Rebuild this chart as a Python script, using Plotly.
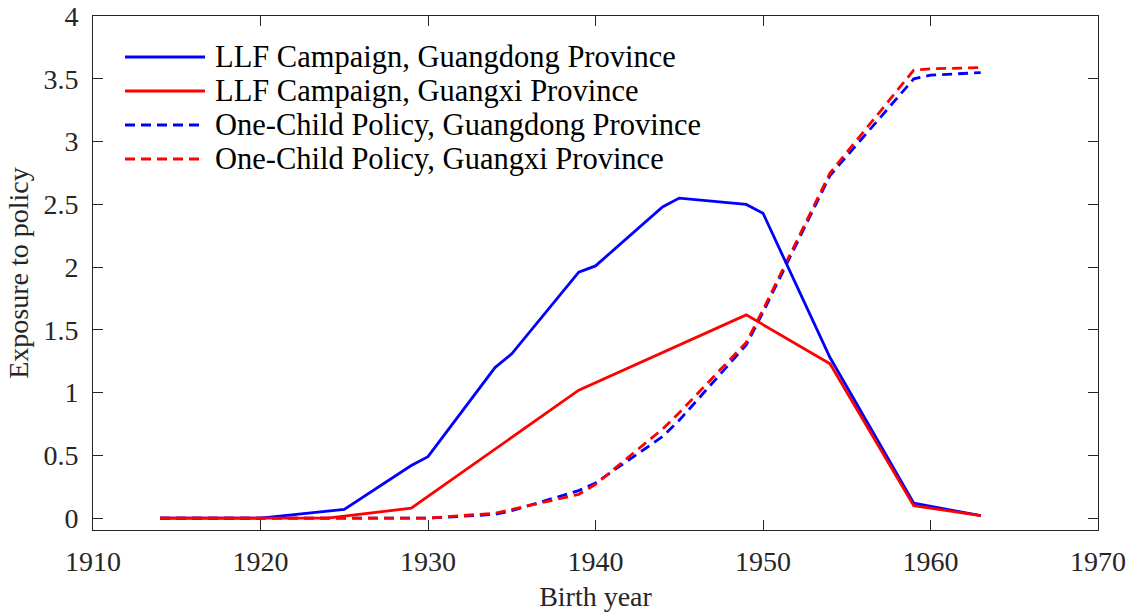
import plotly.graph_objects as go

# ---- data ----
years_llf_gd = [1914, 1920, 1925, 1929, 1930, 1934, 1935, 1939, 1940, 1944, 1945, 1949, 1950, 1954, 1959, 1963]
llf_gd = [0, 0, 0.07, 0.42, 0.49, 1.20, 1.31, 1.96, 2.01, 2.48, 2.55, 2.50, 2.43, 1.28, 0.12, 0.02]

years_llf_gx = [1914, 1920, 1924, 1929, 1934, 1939, 1949, 1954, 1959, 1963]
llf_gx = [0, 0, 0, 0.08, 0.55, 1.02, 1.62, 1.23, 0.10, 0.02]

years_ocp = [1914, 1920, 1924, 1929, 1930, 1934, 1935, 1939, 1940, 1944, 1945, 1949, 1950, 1954, 1959, 1960, 1963]
ocp_gd = [0, 0, 0, 0, 0, 0.03, 0.06, 0.22, 0.28, 0.65, 0.78, 1.38, 1.64, 2.73, 3.50, 3.53, 3.55]
ocp_gx = [0, 0, 0, 0, 0, 0.04, 0.07, 0.19, 0.27, 0.71, 0.84, 1.40, 1.66, 2.75, 3.57, 3.58, 3.59]

names = ["LLF Campaign, Guangdong Province",
         "LLF Campaign, Guangxi Province",
         "One-Child Policy, Guangdong Province",
         "One-Child Policy, Guangxi Province"]
colors = ["#0000FF", "#FF0000", "#0000FF", "#FF0000"]
dashes = ["solid", "solid", "10px,6px", "10px,6px"]

x_ticks = [1910, 1920, 1930, 1940, 1950, 1960, 1970]
y_ticks = [0, 0.5, 1, 1.5, 2, 2.5, 3, 3.5, 4]
y_tick_text = ["0", "0.5", "1", "1.5", "2", "2.5", "3", "3.5", "4"]

series = [(years_llf_gd, llf_gd), (years_llf_gx, llf_gx), (years_ocp, ocp_gd), (years_ocp, ocp_gx)]
draw_order = [2, 3, 0, 1]

FONT = "Liberation Serif"
TXT = "#262626"
LW = 2.8
fig = go.Figure()
for i in draw_order:
    xs, ys = series[i]
    fig.add_trace(go.Scatter(x=xs, y=ys, mode="lines", name=names[i],
                             line=dict(color=colors[i], width=LW, dash=dashes[i]),
                             showlegend=False))

W, H = 1134, 615
L, R, T, B = 93, 36, 16, 85
pw, ph = W - L - R, H - T - B
def px(x): return (x - L) / pw           # page x -> paper
def py(y): return (H - B - y) / ph       # page y -> paper

rows = [57, 91, 125, 159]
for i, yy in enumerate(rows):
    fig.add_shape(type="line", xref="paper", yref="paper",
                  x0=px(125), x1=px(205), y0=py(yy), y1=py(yy),
                  line=dict(color=colors[i], width=LW, dash=dashes[i]))
    fig.add_annotation(xref="paper", yref="paper", x=px(213), y=py(yy),
                       text=names[i], showarrow=False, xanchor="left", yanchor="middle",
                       font=dict(family=FONT, size=30.5, color="#000000"))

axis_common = dict(showline=True, linecolor=TXT, linewidth=1, mirror="ticks",
                   ticks="inside", ticklen=10, tickcolor=TXT, tickwidth=1,
                   showgrid=False, zeroline=False, ticklabeloverflow="allow",
                   automargin=False,
                   tickfont=dict(family=FONT, size=28, color=TXT))

fig.update_layout(
    width=W, height=H, autosize=False,
    margin=dict(l=L, r=R, t=T, b=B, pad=0, autoexpand=False),
    plot_bgcolor="white", paper_bgcolor="white",
    xaxis=dict(range=[1910, 1970], tickvals=x_ticks, ticklabelstandoff=6,
               title=dict(text="Birth year", font=dict(family=FONT, size=28, color=TXT), standoff=10),
               **axis_common),
    yaxis=dict(range=[-0.094, 4.001], tickvals=y_ticks, ticktext=y_tick_text, ticklabelstandoff=8,
               title=dict(text="Exposure to policy", font=dict(family=FONT, size=28, color=TXT), standoff=6),
               **axis_common),
)

fig.write_html("out.html", config={"displayModeBar": False},
               post_script="document.body.style.margin='0';")
